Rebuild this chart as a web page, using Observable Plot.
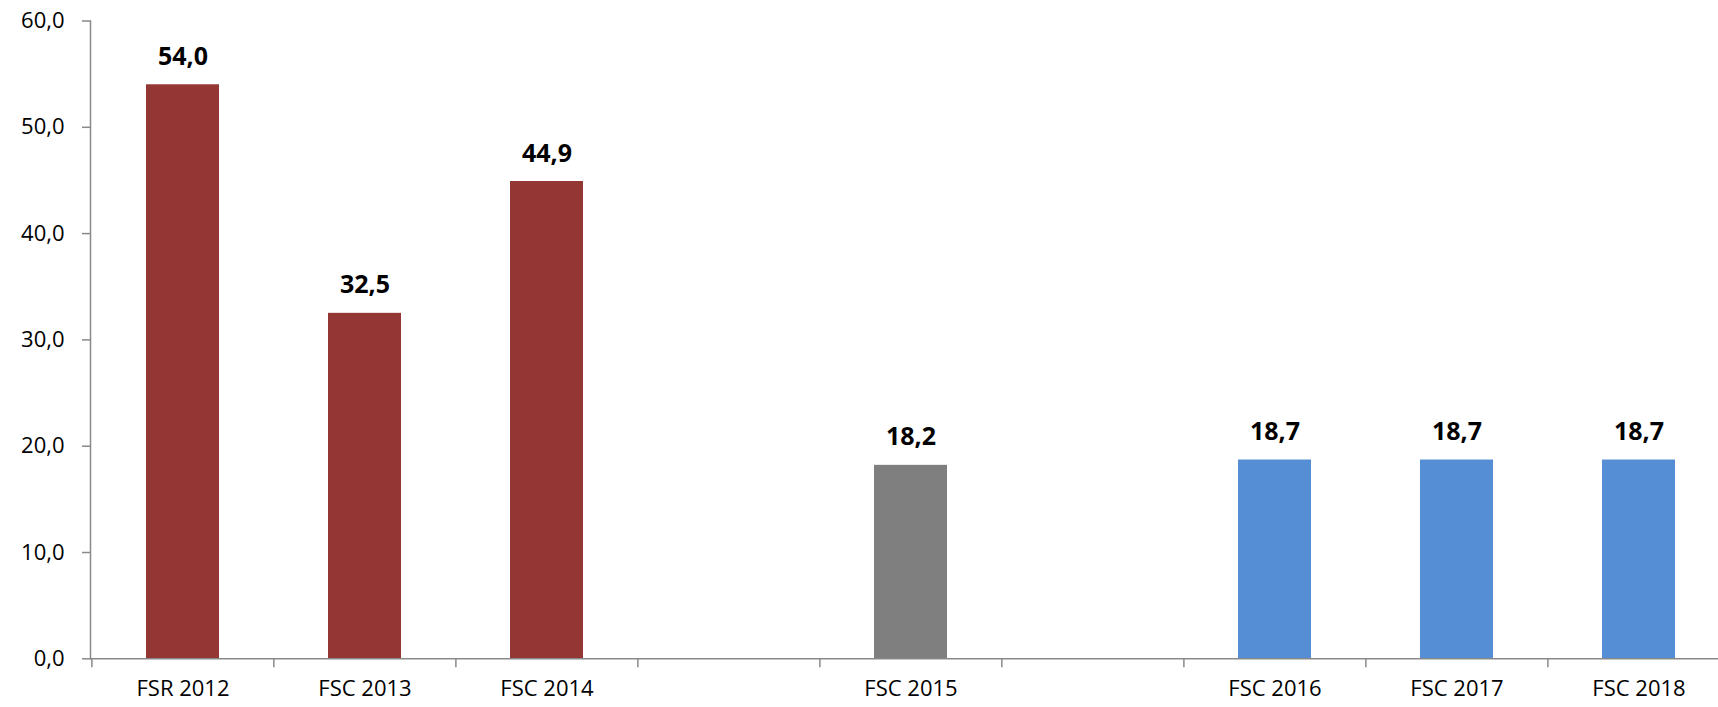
<!DOCTYPE html>
<html>
<head>
<meta charset="utf-8">
<script src="https://cdn.jsdelivr.net/npm/d3@7"></script>
<script src="https://cdn.jsdelivr.net/npm/@observablehq/plot@0.6"></script>
<style>
  html, body { margin: 0; padding: 0; background: #fff; overflow: hidden; }
  #chart svg { display: block; }
</style>
</head>
<body>
<div id="chart"></div>
<script>
// Categories (blank slots are empty gaps in the original chart)
const categories = ["FSR 2012", "FSC 2013", "FSC 2014", "", "FSC 2015", " ", "FSC 2016", "FSC 2017", "FSC 2018"];
const values = [54.0, 32.5, 44.9, null, 18.2, null, 18.7, 18.7, 18.7];
const groups = ["2012–2014", "2012–2014", "2012–2014", null, "2015", null, "2016–2018", "2016–2018", "2016–2018"];
const yTicks = [0, 10, 20, 30, 40, 50, 60];

const groupDomain = ["2012–2014", "2015", "2016–2018"];
const groupColors = ["#943634", "#7f7f7f", "#558ed5"];

const data = categories.map((c, i) => ({category: c, value: values[i], group: groups[i]}));
const bars = data.filter(d => d.value != null);

const width = 1718, height = 707;
const marginLeft = 90, marginRight = -12, marginTop = 20.5, marginBottom = 48.7;
const step = (width - marginLeft - marginRight) / categories.length;
const fmt = v => v.toFixed(1).replace(".", ",");
const axisColor = "#898989";
const font = "'Open Sans', sans-serif";

const chart = Plot.plot({
  width, height, marginLeft, marginRight, marginTop, marginBottom,
  style: {fontFamily: font, background: "#fff", overflow: "hidden"},
  x: {domain: categories, paddingInner: 0.6, paddingOuter: 0.3, label: null},
  y: {domain: [0, 60], label: null},
  color: {domain: groupDomain, range: groupColors},
  marks: [
    Plot.barY(bars, {x: "category", y: "value", fill: "group"}),
    Plot.text(bars, {x: "category", y: "value", text: d => fmt(d.value), dy: -20,
      fontSize: 25, fontWeight: "bold", fill: "#000", lineAnchor: "bottom"}),
    Plot.frame({anchor: "left", stroke: axisColor, strokeWidth: 1.5, strokeOpacity: 1}),
    Plot.ruleY([0], {stroke: axisColor, strokeWidth: 1.5}),
    Plot.axisY({ticks: yTicks, tickFormat: fmt, tickSize: 8, tickPadding: 18,
      stroke: axisColor, strokeWidth: 1.5, strokeOpacity: 1, fontSize: 22, fill: "#000", label: null}),
    Plot.axisX({tickSize: 9, tickFormat: () => "", dx: -step / 2, stroke: axisColor,
      strokeWidth: 1.5, strokeOpacity: 1, label: null}),
    Plot.axisX({tickSize: 0, tickPadding: 22, fontSize: 22, fill: "#000", label: null})
  ]
});
document.getElementById("chart").appendChild(chart);
</script>
</body>
</html>
